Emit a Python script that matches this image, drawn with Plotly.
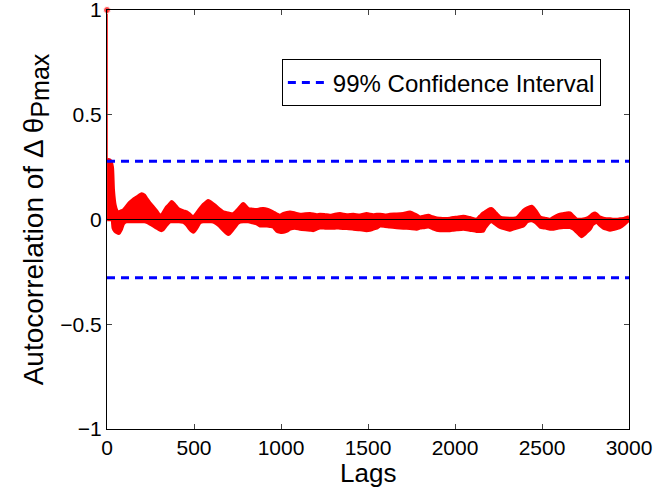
import plotly.graph_objects as go

# ---- data ----
lag0 = 0
acf0 = 1.0
conf = 0.278  # 99% confidence bound

lags = [1, 10, 20, 30, 36, 46, 57, 69, 80, 94, 110, 132, 150, 171, 199, 215, 228, 245, 266, 285,
        305, 314, 325, 343, 362, 372, 390, 410, 439, 458, 475, 496, 515, 534, 553, 582, 600, 621,
        645, 668, 697, 726, 755, 783, 812, 836, 860, 880, 899, 920, 937, 955, 976, 994, 1015, 1034,
        1052, 1080, 1109, 1140, 1167, 1186, 1205, 1224, 1253, 1282, 1310, 1339, 1378, 1416, 1454,
        1492, 1511, 1530, 1550, 1569, 1598, 1626, 1665, 1703, 1741, 1780, 1799, 1820, 1847, 1870,
        1895, 1914, 1940, 1971, 1990, 2010, 2048, 2085, 2124, 2143, 2162, 2172, 2190, 2201, 2211,
        2230, 2259, 2290, 2316, 2335, 2355, 2375, 2393, 2415, 2441, 2465, 2489, 2520, 2547, 2566,
        2595, 2623, 2642, 2661, 2680, 2700, 2715, 2728, 2745, 2757, 2776, 2790, 2805, 2815, 2830,
        2853, 2870, 2891, 2910, 2930, 2949, 2970, 2996, 3000]

acf_upper = [0.28, 0.285, 0.28, 0.25, 0.14, 0.067, 0.04, 0.035, 0.04, 0.045, 0.06, 0.082, 0.095,
             0.106, 0.122, 0.115, 0.099, 0.08, 0.059, 0.04, 0.019, 0.02, 0.035, 0.059, 0.075, 0.085,
             0.07, 0.051, 0.04, 0.035, 0.025, 0.011, 0.03, 0.051, 0.07, 0.09, 0.08, 0.067, 0.05,
             0.035, 0.03, 0.027, 0.05, 0.075, 0.051, 0.048, 0.046, 0.05, 0.051, 0.048, 0.043, 0.035,
             0.025, 0.019, 0.028, 0.033, 0.035, 0.03, 0.024, 0.026, 0.027, 0.025, 0.022, 0.024, 0.022,
             0.019, 0.024, 0.027, 0.022, 0.024, 0.02, 0.027, 0.024, 0.022, 0.024, 0.024, 0.02, 0.024,
             0.025, 0.028, 0.035, 0.02, 0.011, 0.015, 0.019, 0.012, 0.006, 0.005, 0.004, 0.005, 0.008,
             0.01, 0.014, 0.008, 0.0, 0.015, 0.03, 0.035, 0.045, 0.05, 0.051, 0.035, 0.011, 0.006,
             0.005, 0.005, 0.008, 0.025, 0.043, 0.055, 0.062, 0.04, 0.011, 0.004, 0.0, 0.01, 0.022,
             0.027, 0.03, 0.03, 0.015, 0.0, 0.0, 0.0, 0.002, 0.005, 0.015, 0.025, 0.03, 0.025, 0.012,
             0.005, 0.003, 0.002, 0.0, 0.0, 0.002, 0.004, 0.011, 0.012]

acf_lower = [0.0, 0.0, 0.0, 0.0, -0.04, -0.055, -0.062, -0.065, -0.05, -0.02, -0.01, -0.01, -0.01,
             -0.01, -0.01, -0.01, -0.012, -0.02, -0.03, -0.04, -0.05, -0.052, -0.045, -0.025, -0.01,
             -0.01, -0.01, -0.01, -0.012, -0.025, -0.045, -0.06, -0.04, -0.015, -0.01, -0.01, -0.01,
             -0.015, -0.03, -0.05, -0.071, -0.045, -0.015, -0.01, -0.01, -0.015, -0.02, -0.03, -0.03,
             -0.03, -0.032, -0.035, -0.055, -0.06, -0.06, -0.055, -0.045, -0.04, -0.045, -0.048,
             -0.05, -0.052, -0.045, -0.04, -0.04, -0.04, -0.04, -0.04, -0.042, -0.045, -0.048, -0.052,
             -0.05, -0.045, -0.04, -0.03, -0.032, -0.035, -0.038, -0.04, -0.042, -0.045, -0.04,
             -0.038, -0.035, -0.042, -0.05, -0.052, -0.052, -0.052, -0.05, -0.048, -0.045, -0.05,
             -0.056, -0.056, -0.055, -0.04, -0.02, -0.012, -0.01, -0.02, -0.037, -0.045, -0.05,
             -0.045, -0.04, -0.035, -0.03, -0.01, -0.005, -0.015, -0.035, -0.04, -0.045, -0.045,
             -0.04, -0.037, -0.037, -0.037, -0.045, -0.06, -0.072, -0.081, -0.07, -0.06, -0.045,
             -0.025, -0.015, -0.012, -0.025, -0.04, -0.045, -0.05, -0.047, -0.042, -0.037, -0.025,
             -0.005, -0.002]

x_ticks = [0, 500, 1000, 1500, 2000, 2500, 3000]
y_ticks = [-1, -0.5, 0, 0.5, 1]
x_range = [0, 3000]

RED = "#ff0000"
FONT = "Liberation Sans, Arial, sans-serif"

fig = go.Figure()

# dense stem envelope
fig.add_trace(go.Scatter(x=lags, y=acf_upper, mode="lines",
                         line=dict(color=RED, width=3.5, shape="spline", smoothing=0.6),
                         showlegend=False, hoverinfo="skip", cliponaxis=False))
fig.add_trace(go.Scatter(x=lags, y=acf_lower, mode="lines", fill="tonexty", fillcolor=RED,
                         line=dict(color=RED, width=3.5, shape="spline", smoothing=0.6),
                         showlegend=False, hoverinfo="skip", cliponaxis=False))

# lag-0 stem
fig.add_trace(go.Scatter(x=[lag0, lag0], y=[0, acf0], mode="lines+markers",
                         line=dict(color=RED, width=1.5),
                         marker=dict(color=RED, size=[0, 7]), showlegend=False,
                         hoverinfo="skip", cliponaxis=False))

# confidence bounds
fig.add_trace(go.Scatter(x=x_range, y=[conf, conf], mode="lines",
                         line=dict(color="#0000ff", width=3, dash="8px,6px"),
                         name="99% Confidence Interval"))
fig.add_trace(go.Scatter(x=x_range, y=[-conf, -conf], mode="lines",
                         line=dict(color="#0000ff", width=3, dash="8px,6px"),
                         showlegend=False))

fig.add_hline(y=0, line=dict(color="black", width=1.2), layer="above")

# x-axis title placed as annotation to match vertical spacing
fig.add_annotation(text="Lags", xref="paper", yref="paper", x=0.5, y=-0.104,
                   xanchor="center", yanchor="middle", showarrow=False,
                   font=dict(size=26, family=FONT, color="black"))

fig.update_layout(
    width=656, height=491,
    margin=dict(l=107, r=27, t=10, b=62, autoexpand=False),
    paper_bgcolor="white", plot_bgcolor="white",
    font=dict(family=FONT, color="black", size=21),
    showlegend=True,
    legend=dict(x=0.335, y=0.882, xanchor="left", yanchor="top",
                bgcolor="white", bordercolor="black", borderwidth=1,
                font=dict(size=24, family=FONT), itemwidth=40,
                tracegroupgap=0),
    xaxis=dict(range=x_range, tickvals=x_ticks, ticks="inside", ticklen=5,
               showline=True, linecolor="black", linewidth=1, mirror="allticks",
               showgrid=False, zeroline=False, automargin=False,
               ticklabeloverflow="allow",
               tickfont=dict(size=21)),
    yaxis=dict(range=[-1, 1], tickvals=y_ticks, ticks="inside", ticklen=5,
               showline=True, linecolor="black", linewidth=1, mirror="allticks",
               showgrid=False, zeroline=False, automargin=False,
               ticklabeloverflow="allow",
               title=dict(text="Autocorrelation of Δ θ<sub><span style='font-size:25px'>Pmax</span></sub>",
                          font=dict(size=28), standoff=8),
               tickfont=dict(size=21)),
)

fig.write_html("out.html")
